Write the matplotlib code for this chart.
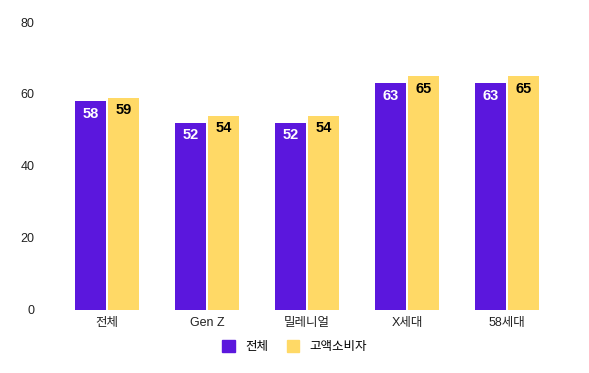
import matplotlib
matplotlib.use("Agg")
import matplotlib.pyplot as plt
import numpy as np
from matplotlib.patches import Patch

plt.rcParams['font.family'] = ['Liberation Sans', 'Noto Sans CJK KR', 'DejaVu Sans']

categories = ["전체", "Gen Z", "밀레니얼", "X세대", "58세대"]
total = [58, 52, 52, 63, 63]
high_spenders = [59, 54, 54, 65, 65]
series_names = ["전체", "고액소비자"]
colors = ["#5b17dd", "#ffd966"]
yticks = [0, 20, 40, 60, 80]

fig = plt.figure(figsize=(5.89, 3.73), dpi=100)
ax = fig.add_axes([0.0968, 0.169, 0.849, 0.772])

x = np.arange(len(categories))
w = 0.31
gap = 0.01
bars1 = ax.bar(x - w / 2 - gap, total, width=w, color=colors[0])
bars2 = ax.bar(x + w / 2 + gap, high_spenders, width=w, color=colors[1])

for b, v in zip(bars1, total):
    ax.annotate(str(v), (b.get_x() + b.get_width() / 2, v), xytext=(0, -4),
                textcoords="offset points", ha="center", va="top",
                color="white", fontsize=10.5, fontweight="bold")
for b, v in zip(bars2, high_spenders):
    ax.annotate(str(v), (b.get_x() + b.get_width() / 2, v), xytext=(0, -4),
                textcoords="offset points", ha="center", va="top",
                color="black", fontsize=10.5, fontweight="bold")

ax.set_xlim(-0.5, len(categories) - 0.5)
ax.set_ylim(0, 80)
ax.set_yticks(yticks)
ax.set_xticks(x)
ax.set_xticklabels(categories)
ax.tick_params(axis="both", length=0, labelsize=9, colors="#222222")
ax.tick_params(axis="y", pad=16)
ax.tick_params(axis="x", pad=5)
for s in ax.spines.values():
    s.set_visible(False)

handles = [Patch(color=c, label=n) for c, n in zip(colors, series_names)]
fig.legend(handles=handles, loc="center", bbox_to_anchor=(0.5, 0.07), ncol=2,
           frameon=False, fontsize=9, handlelength=1.0, handleheight=1.0,
           columnspacing=1.5, handletextpad=0.8)

fig.savefig("out.png", dpi=100)
